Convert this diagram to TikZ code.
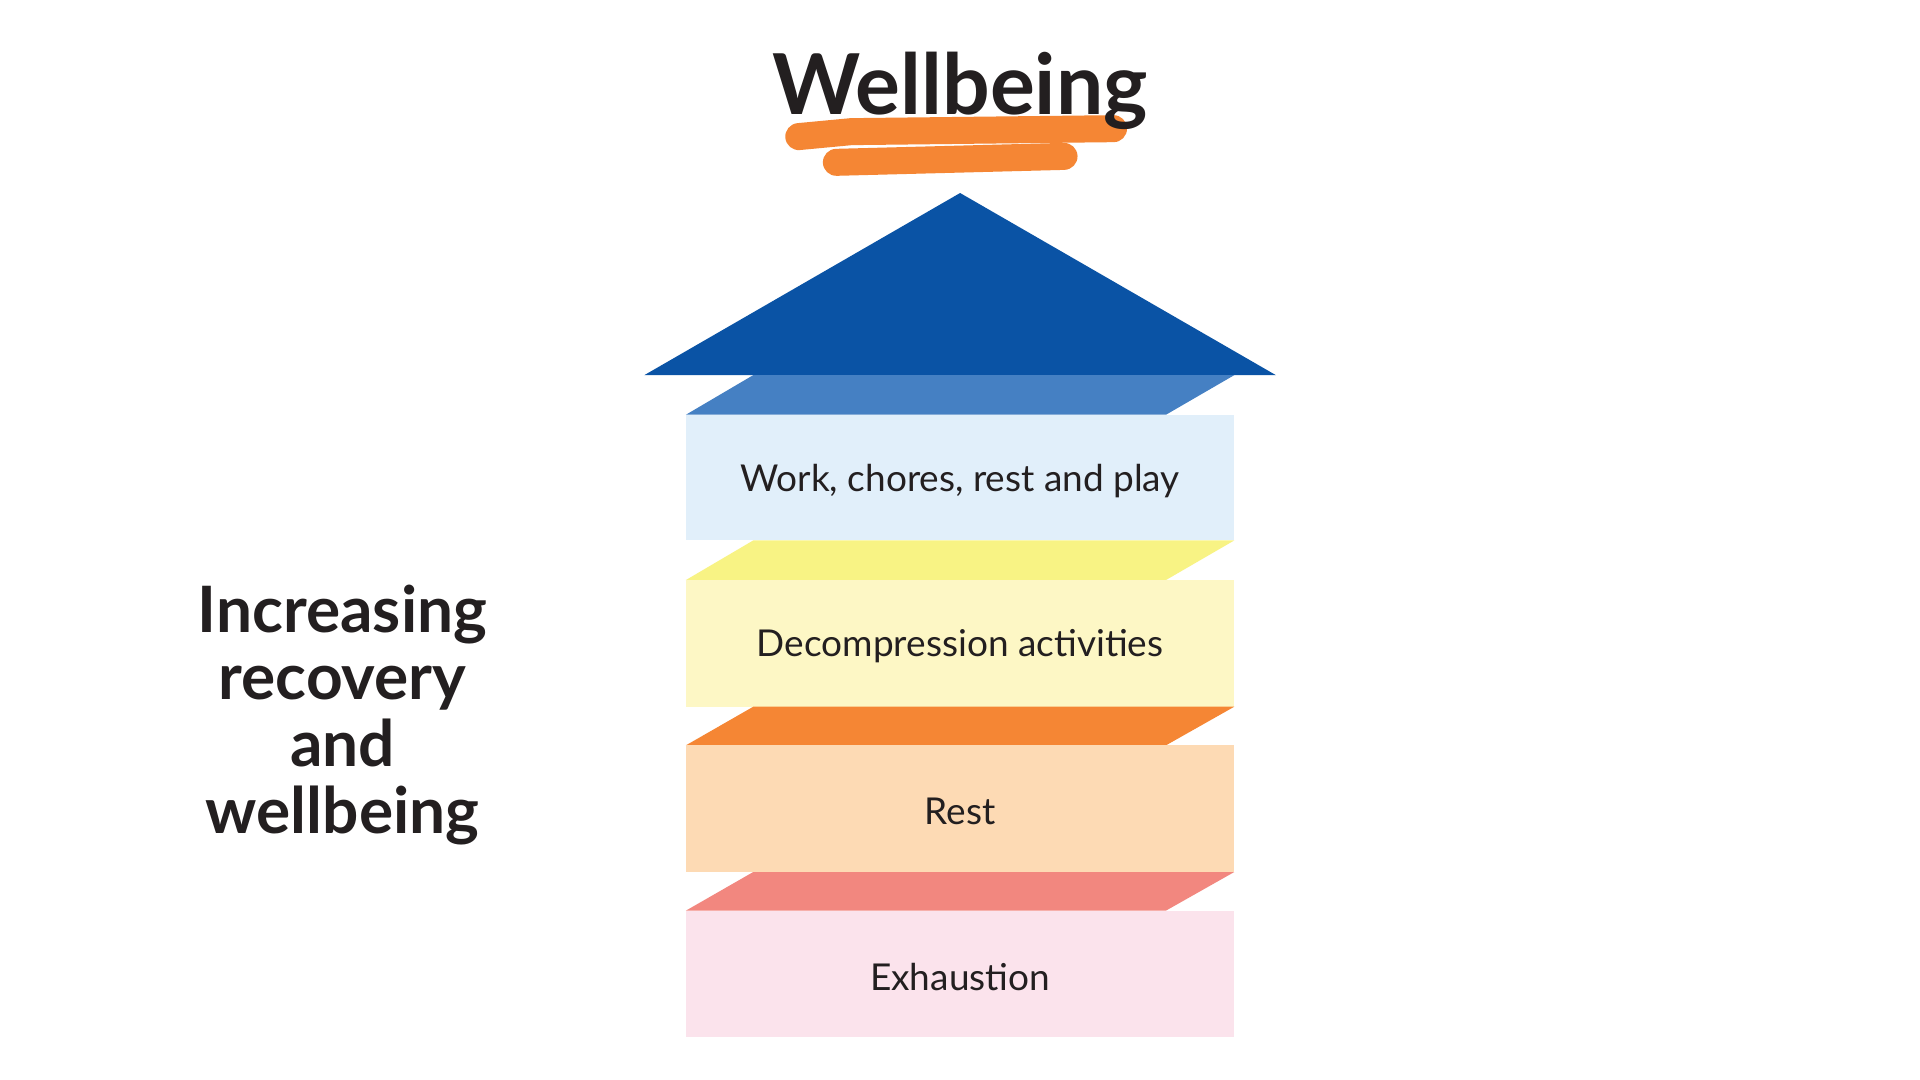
\documentclass[tikz,border=0pt]{standalone}
\usepackage{fontspec}
\setmainfont{Lato}
\definecolor{ink}{HTML}{231F20}
\definecolor{dblue}{HTML}{0A53A5}
\definecolor{mblue}{HTML}{4580C3}
\definecolor{lblue}{HTML}{E1EFFA}
\definecolor{yelbar}{HTML}{F8F384}
\definecolor{lyel}{HTML}{FDF7C5}
\definecolor{orbar}{HTML}{F58634}
\definecolor{peach}{HTML}{FDDAB4}
\definecolor{pkbar}{HTML}{F2877F}
\definecolor{lpink}{HTML}{FBE3EC}
\begin{document}
\begin{tikzpicture}[x=0.9898pt,y=-0.9898pt,
  lbl/.style={text=ink,font=\fontsize{37}{40}\selectfont},
  scrib/.style={draw=orbar,line width=27pt,line cap=round}]
\useasboundingbox (0,0) rectangle (1939.8,1091.1);
\fill[white] (0,0) rectangle (1939.8,1091.1);
% scribble
\draw[scrib] (807,138) -- (860,133) -- (1125,130);
\draw[scrib] (845,164) -- (1075,158);
\node[text=ink,font=\fontsize{84}{88}\selectfont\bfseries] (title) at (970,92) {Wellbeing};
% arrow head
\fill[dblue] (970,195) -- (1289,379) -- (651,379) -- cycle;
% bands and boxes
\fill[mblue] (693,419) -- (761,379) -- (1247,379) -- (1178,419) -- cycle;
\fill[lblue] (693,419) rectangle (1247,546);
\fill[yelbar] (693,586) -- (761,546) -- (1247,546) -- (1178,586) -- cycle;
\fill[lyel] (693,586) rectangle (1247,714);
\fill[orbar] (693,753) -- (761,714) -- (1247,714) -- (1178,753) -- cycle;
\fill[peach] (693,753) rectangle (1247,881);
\fill[pkbar] (693,920) -- (761,881) -- (1247,881) -- (1178,920) -- cycle;
\fill[lpink] (693,920) rectangle (1247,1048);
\node[lbl] (b1) at (970,486) {Work, chores, rest and play};
\node[lbl] (b2) at (970,653) {Decompression activities};
\node[lbl] (b3) at (970,820) {Rest};
\node[lbl] (b4) at (970,987) {Exhaustion};
\node[text=ink,align=center,font=\fontsize{64}{67}\selectfont\bfseries] (side) at (346,722) {Increasing\\recovery\\and\\wellbeing};
\end{tikzpicture}
\end{document}
